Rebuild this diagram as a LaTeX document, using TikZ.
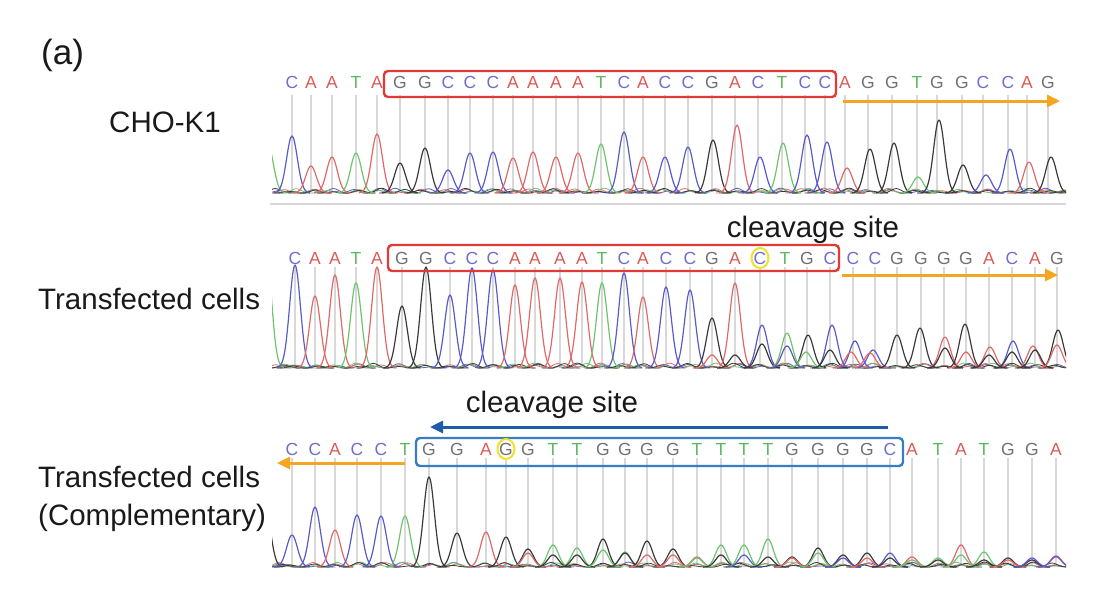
\documentclass[tikz,border=0pt]{standalone}
\usepackage{fontspec}
\setmainfont{Liberation Sans}
\usetikzlibrary{arrows.meta}
\definecolor{pkB}{HTML}{5A5AC8}
\definecolor{pkR}{HTML}{E06868}
\definecolor{pkG}{HTML}{6DC46D}
\definecolor{pkK}{HTML}{3A3A3A}
\definecolor{lbC}{HTML}{6E6ECC}
\definecolor{lbA}{HTML}{DA5A55}
\definecolor{lbT}{HTML}{5DB85D}
\definecolor{lbG}{HTML}{707070}
\definecolor{boxred}{HTML}{E23A36}
\definecolor{boxblue}{HTML}{3A7CC2}
\definecolor{arrblue}{HTML}{1E5CAA}
\definecolor{arrorange}{HTML}{F4A622}
\definecolor{circyellow}{HTML}{F0E22A}
\definecolor{tickgray}{HTML}{D8D8D8}
\tikzset{
  peak/.style={line width=1.2pt, line join=round},
  noise/.style={line width=0.8pt, line join=round},
  tick/.style={tickgray, line width=1.3pt},
  basechar/.style={inner sep=0pt, font=\fontsize{17.5}{17.5}\selectfont},
  bC/.style={basechar, text=lbC},
  bA/.style={basechar, text=lbA},
  bT/.style={basechar, text=lbT},
  bG/.style={basechar, text=lbG},
  seqbox/.style={line width=2.4pt, rounded corners=4pt},
  dirarrow/.style={line width=3pt, -{Triangle[length=13pt,width=12pt]}},
  lab/.style={font=\fontsize{29.5}{34}\selectfont, inner sep=0pt, anchor=base west, text=black!90},
  cleave/.style={font=\fontsize{29.5}{34}\selectfont, inner sep=0pt, anchor=base, text=black!90},
  cut/.style={circyellow, line width=2pt},
}
\newcommand\drawpeaks[2]{%
  \foreach \qx/\qy/\qc in {#2} {%
    \draw[peak,\qc] plot[domain=-18:18,samples=29,smooth] ({\qx+\x},{#1-(#1-\qy)*exp(-(\x/7.6)^2)});}}
\newcommand\drawnoise[2]{%
  \foreach \qx in {#2} {%
    \foreach \qc in {pkB,pkR,pkG,pkK} {%
      \pgfmathsetmacro\hh{1+4*rnd}%
      \pgfmathsetmacro\dd{-5+10*rnd}%
      \draw[noise,\qc] plot[domain=-16:16,samples=15,smooth] ({\qx+\dd+\x},{#1-\hh*exp(-(\x/7)^2)});}}}
\begin{document}
\begin{tikzpicture}[x=1pt,y=-1pt]
\useasboundingbox (0,0) rectangle (1108,590);
\pgfmathsetseed{12}

% ---------- labels
\node[lab, font=\fontsize{35}{40}\selectfont] (plabel) at (41,64) {(a)};
\node[lab] (cho) at (109,132) {CHO-K1};
\node[lab] (tc1) at (38,309) {Transfected cells};
\node[lab] (tc2) at (38,487) {Transfected cells};
\node[lab] (comp) at (38,525) {(Complementary)};
\node[cleave] (cs1) at (813,237) {cleavage site};
\node[cleave] (cs2) at (552,412) {cleavage site};

% ---------- track 1
\draw[tickgray, line width=2pt] (270,204) -- (1066,204);
\foreach \lx in {292,311,332,356,377,400,425,448,470,493,513,533,556,578,601,624,643,665,688,712,735,758,782,805,825,845,868,892,917,937,962,983,1008,1027,1048}
  \draw[tick] (\lx,95) -- (\lx,192);
\begin{scope}
\clip (272,100) rectangle (1066,200);
\drawnoise{193}{280,292,311,332,356,377,400,425,448,470,493,513,533,556,578,601,624,643,665,688,712,735,758,782,805,825,845,868,892,917,937,962,983,1008,1027,1048,1060}
\drawpeaks{193}{268/145/pkG, 292/136/pkB, 311/166/pkR, 332/157/pkR, 356/153/pkG, 377/134/pkR, 400/163/pkK, 425/148/pkK, 448/170/pkB, 470/153/pkB, 493/152/pkB, 513/158/pkR, 533/152/pkR, 556/157/pkR, 578/153/pkR, 601/144/pkG, 624/132/pkB, 643/157/pkR, 665/157/pkB, 688/147/pkB, 713/140/pkK, 737/125/pkR, 760/157/pkB, 783/143/pkG, 807/135/pkB, 827/142/pkB, 847/168/pkR, 870/149/pkK, 894/143/pkK, 918/177/pkG, 939/120/pkK, 963/165/pkK, 986/175/pkB, 1010/149/pkB, 1029/162/pkR, 1051/157/pkK}
\end{scope}
\foreach [count=\i] \lx/\ll in {292/C,311/A,332/A,356/T,377/A,400/G,425/G,448/C,470/C,493/C,513/A,533/A,556/A,578/A,601/T,624/C,643/A,665/C,688/C,712/G,735/A,758/C,782/T,805/C,825/C,845/A,868/G,892/G,917/T,937/G,962/G,983/C,1008/C,1027/A,1048/G}
  \node[b\ll] (sa\i) at (\lx,82) {\ll};
\draw[seqbox, boxred] (384,71) rectangle (836,97);
\coordinate (o1s) at (843,101);
\coordinate (o1e) at (1060,101);
\draw[dirarrow, arrorange] (o1s) -- (o1e);

% ---------- track 2
\foreach \lx in {295,315,335,356,377,402,426,450,472,493,515,535,560,582,602,624,643,666,690,712,735,760,785,807,830,853,875,897,921,944,966,989,1012,1035,1057}
  \draw[tick] (\lx,267) -- (\lx,366);
\begin{scope}
\clip (272,240) rectangle (1066,375);
\drawnoise{368}{280,295,315,335,356,377,402,426,450,472,493,515,535,560,582,602,624,643,666,690,712,735,760,785,807,830,853,875,897,921,944,966,989,1012,1035,1057}
\drawpeaks{368}{266/250/pkG, 295/265/pkB, 315/296/pkR, 335/275/pkR, 356/283/pkG, 377/267/pkR, 402/306/pkK, 426/267/pkK, 450/295/pkB, 472/268/pkB, 493/270/pkB, 515/285/pkR, 535/278/pkR, 560/278/pkR, 582/282/pkR, 602/283/pkG, 624/273/pkB, 643/297/pkR, 666/287/pkB, 690/290/pkB, 712/318/pkK, 735/283/pkR, 712/355/pkR, 735/355/pkK, 762/325/pkB, 762/344/pkK, 787/333/pkG, 787/346/pkB, 808/335/pkK, 806/352/pkG, 832/325/pkB, 830/350/pkK, 855/341/pkB, 851/352/pkR, 873/350/pkB, 870/353/pkR, 897/335/pkK, 920/328/pkK, 945/337/pkR, 945/348/pkK, 965/324/pkK, 966/352/pkR, 990/347/pkR, 989/355/pkK, 1013/341/pkB, 1012/352/pkK, 1033/346/pkR, 1035/350/pkK, 1058/330/pkK, 1057/345/pkR}
\end{scope}
\foreach [count=\i] \lx/\ll in {295/C,315/A,335/A,356/T,377/A,402/G,426/G,450/C,472/C,493/C,515/A,535/A,560/A,582/A,602/T,624/C,643/A,666/C,690/C,712/G,735/A,760/C,785/T,807/G,830/C,853/C,875/C,897/G,921/G,944/G,966/G,989/A,1012/C,1035/A,1057/G}
  \node[b\ll] (sb\i) at (\lx,258) {\ll};
\draw[seqbox, boxred] (388,245) rectangle (839,271);
\draw[cut] (sb22) ellipse [x radius=8.5pt, y radius=10pt];
\coordinate (o2s) at (842,275);
\coordinate (o2e) at (1058,275);
\draw[dirarrow, arrorange] (o2s) -- (o2e);

% ---------- track 3
\foreach \lx in {292,315,335,357,381,405,429,457,486,506,528,553,577,603,625,647,673,697,721,744,768,792,818,843,867,890,912,938,961,984,1008,1032,1056}
  \draw[tick] (\lx,458) -- (\lx,565);
\begin{scope}
\clip (272,440) rectangle (1066,575);
\drawnoise{567}{280,292,315,335,357,381,405,429,457,486,506,528,553,577,603,625,647,673,697,721,744,768,792,818,843,867,890,912,938,961,984,1008,1032,1056}
\drawpeaks{567}{265/505/pkK, 292/535/pkB, 315/507/pkB, 335/530/pkR, 357/515/pkB, 381/516/pkB, 405/516/pkG, 429/477/pkK, 457/533/pkK, 486/532/pkR, 506/537/pkK, 528/549/pkK, 528/553/pkR, 553/545/pkG, 553/555/pkK, 577/548/pkG, 577/555/pkK, 603/539/pkK, 603/550/pkG, 625/552/pkG, 625/553/pkK, 647/541/pkK, 647/555/pkR, 673/549/pkK, 673/555/pkR, 697/557/pkR, 697/558/pkG, 721/545/pkG, 721/555/pkK, 744/545/pkG, 744/555/pkB, 768/539/pkG, 768/557/pkK, 792/557/pkK, 792/558/pkR, 818/548/pkK, 818/553/pkG, 843/555/pkK, 843/558/pkB, 867/553/pkK, 867/558/pkR, 890/553/pkB, 890/558/pkK, 912/557/pkR, 912/560/pkG, 938/558/pkG, 938/560/pkK, 961/545/pkR, 961/555/pkG, 984/552/pkG, 984/560/pkK, 1008/558/pkK, 1008/560/pkR, 1032/560/pkK, 1032/558/pkB, 1056/557/pkR, 1056/556/pkB}
\end{scope}
\foreach [count=\i] \lx/\ll in {292/C,315/C,335/A,357/C,381/C,405/T,429/G,457/G,486/A,506/G,528/G,553/T,577/T,603/G,625/G,647/G,673/G,697/T,721/T,744/T,768/T,792/G,818/G,843/G,867/G,890/C,912/A,938/T,961/A,984/T,1008/G,1032/G,1056/A}
  \node[b\ll] (sc\i) at (\lx,449) {\ll};
\draw[seqbox, boxblue] (416,438) rectangle (903,466);
\draw[cut] (sc10) ellipse [x radius=8.5pt, y radius=10pt];
\coordinate (o3s) at (405,463);
\coordinate (o3e) at (277,463);
\draw[dirarrow, arrorange] (o3s) -- (o3e);
\coordinate (b3s) at (888,427);
\coordinate (b3e) at (430,427);
\draw[dirarrow, arrblue] (b3s) -- (b3e);
\end{tikzpicture}
\end{document}
